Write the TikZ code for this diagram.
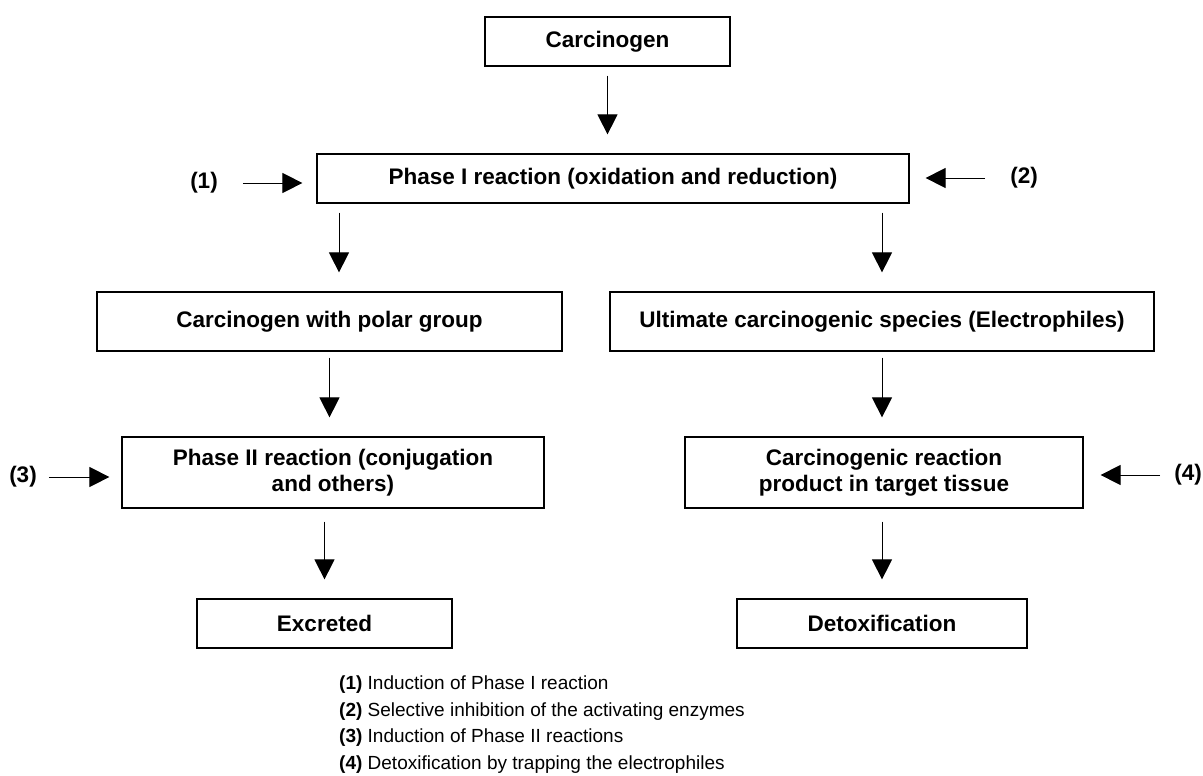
\documentclass[tikz,border=0pt]{standalone}
\usepackage{fontspec}
\setmainfont{Liberation Sans}
\usetikzlibrary{arrows.meta}

\begin{document}
\begin{tikzpicture}[x=1pt,y=-1pt,
				boxmode/.style={rectangle,draw=black,line width=1.2pt,minimum height=49pt,inner sep=0pt,align=center,font=\fontsize{22.5}{26}\selectfont\bfseries},
				keymode/.style={inner sep=0pt,font=\fontsize{22.5}{26}\selectfont\bfseries},
				legmode/.style={inner sep=0pt,anchor=west,font=\fontsize{19}{23}\selectfont},
				flow/.style={-{Triangle[length=20pt,width=20pt]},line width=1pt,shorten <=9pt,shorten >=19pt},
				side/.style={-{Triangle[length=20pt,width=20pt]},line width=1pt}]

				\useasboundingbox (0,0) rectangle (1203,776);

				\node (carc) [boxmode,minimum width=245pt] at (607.5,41.5) {Carcinogen};
				\node (phase1) [boxmode,minimum width=592pt] at (613,178.5) {Phase I reaction (oxidation and reduction)};
				\node (polar) [boxmode,minimum width=465pt,minimum height=59pt] at (329.5,321.5) {Carcinogen with polar group};
				\node (ultim) [boxmode,minimum width=544pt,minimum height=59pt] at (882,321.5) {Ultimate carcinogenic species (Electrophiles)};
				\node (phase2) [boxmode,minimum width=422pt,minimum height=71pt] at (333,472.5) {Phase II reaction (conjugation\\and others)};
				\node (prod) [boxmode,minimum width=398pt,minimum height=71pt] at (884,472.5) {Carcinogenic reaction\\product in target tissue};
				\node (excr) [boxmode,minimum width=255pt] at (324.5,623.5) {Excreted};
				\node (detox) [boxmode,minimum width=290pt] at (882,623.5) {Detoxification};

				\node (key1) [keymode] at (204,183) {(1)};
				\node (key2) [keymode] at (1024,178) {(2)};
				\node (key3) [keymode] at (23,477) {(3)};
				\node (key4) [keymode] at (1188,475) {(4)};

				\draw [flow] (carc.south) -- (carc.south |- phase1.north);
				\draw [flow] ([xshift=9.5pt]polar.north |- phase1.south) -- ([xshift=9.5pt]polar.north);
				\draw [flow] (ultim.north |- phase1.south) -- (ultim.north);
				\draw [flow,shorten <=6pt] (polar.south) -- (polar.south |- phase2.north);
				\draw [flow,shorten <=6pt] (ultim.south) -- (ultim.south |- prod.north);
				\draw [flow,shorten <=13pt] (excr.north |- phase2.south) -- (excr.north);
				\draw [flow,shorten <=13pt] (detox.north |- prod.south) -- (detox.north);

				\draw [side,shorten <=25pt,shorten >=14pt] (key1.east) -- (key1.east -| phase1.west);
				\draw [side,shorten <=25pt,shorten >=16pt] (key2.west) -- (key2.west -| phase1.east);
				\draw [side,shorten <=12pt,shorten >=12pt] (key3.east) -- (key3.east -| phase2.west);
				\draw [side,shorten <=14pt,shorten >=17pt] (key4.west) -- (key4.west -| prod.east);

				\node (leg1) [legmode] at (339,685) {\textbf{(1)} Induction of Phase I reaction};
				\node (leg2) [legmode] at (339,712) {\textbf{(2)} Selective inhibition of the activating enzymes};
				\node (leg3) [legmode] at (339,738) {\textbf{(3)} Induction of Phase II reactions};
				\node (leg4) [legmode] at (339,765) {\textbf{(4)} Detoxification by trapping the electrophiles};
			\end{tikzpicture}
\end{document}
